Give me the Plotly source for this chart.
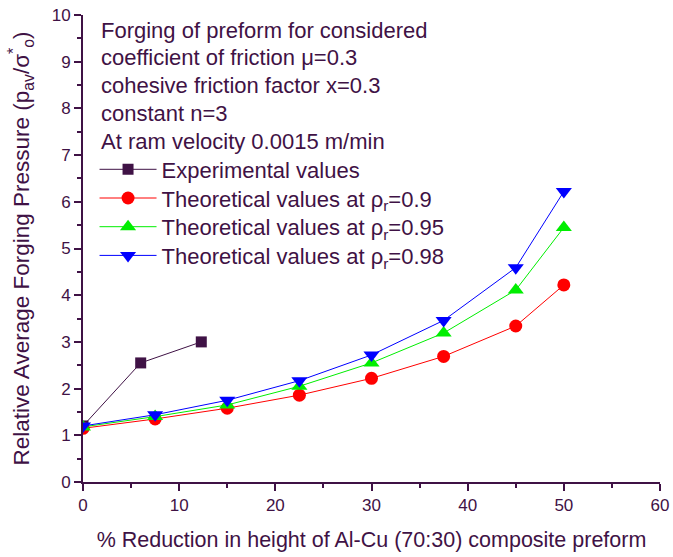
import plotly.graph_objects as go

# % reduction in height
x_exp = [0, 6, 12.3]
y_exp = [1.2, 2.55, 3.0]

x_theory = [0, 7.5, 15, 22.5, 30, 37.5, 45, 50]
y_rho_090 = [1.15, 1.35, 1.58, 1.86, 2.22, 2.69, 3.34, 4.22]
y_rho_095 = [1.18, 1.40, 1.65, 2.05, 2.55, 3.19, 4.11, 5.45]
y_rho_098 = [1.20, 1.44, 1.75, 2.17, 2.72, 3.46, 4.59, 6.22]

info_lines = [
    "Forging of preform for considered",
    "coefficient of friction \u03bc=0.3",
    "cohesive friction factor x=0.3",
    "constant n=3",
    "At ram velocity 0.0015 m/min",
]

INK = "#3f1245"
FONT = "Liberation Sans, Arial, sans-serif"
TXT = 22

plot_top, plot_bottom = 15, 482
span = plot_bottom - plot_top


def paper_y(row):
    return (plot_bottom - row) / span


series = [
    dict(x=x_exp, y=y_exp, name="Experimental values",
         color="#3f1245", symbol="square", size=11),
    dict(x=x_theory, y=y_rho_090, name="Theoretical values at \u03c1<sub>r</sub>=0.9",
         color="#ff0000", symbol="circle", size=13),
    dict(x=x_theory, y=y_rho_095, name="Theoretical values at \u03c1<sub>r</sub>=0.95",
         color="#00ee00", symbol="triangle-up", size=14),
    dict(x=x_theory, y=y_rho_098, name="Theoretical values at \u03c1<sub>r</sub>=0.98",
         color="#0000ff", symbol="triangle-down", size=14),
]

fig = go.Figure()
legend_layout = {}
for i, s in enumerate(series):
    key = "legend" if i == 0 else f"legend{i + 1}"
    fig.add_trace(go.Scatter(
        x=s["x"], y=s["y"], mode="lines+markers", name=s["name"],
        line=dict(color=s["color"], width=1),
        marker=dict(symbol=s["symbol"], size=s["size"], color=s["color"]),
        legend=key))
    # each entry gets its own legend box so the row spacing can be set exactly
    legend_layout[key] = dict(
        x=0.02, y=paper_y(169.5 + i * 28.7), xanchor="left", yanchor="middle",
        bgcolor="rgba(0,0,0,0)", font=dict(family=FONT, size=TXT, color=INK),
        itemwidth=57)

for i, line in enumerate(info_lines):
    fig.add_annotation(
        x=0.027, y=paper_y(30 + i * 27.8),
        xref="paper", yref="paper",
        xanchor="left", yanchor="middle", showarrow=False,
        text=line, font=dict(family=FONT, size=TXT, color=INK))

fig.update_layout(
    width=673, height=557,
    margin=dict(l=83, r=13, t=plot_top, b=557 - plot_bottom),
    paper_bgcolor="white", plot_bgcolor="white",
    font=dict(family=FONT, color=INK),
    showlegend=True,
    **legend_layout,
    xaxis=dict(
        range=[0, 60], tickmode="linear", tick0=0, dtick=10, automargin=False,
        showgrid=False, zeroline=False, showline=True, linecolor=INK, linewidth=2,
        ticks="outside", ticklen=7, tickwidth=1.5, tickcolor=INK,
        minor=dict(ticks="outside", dtick=5, ticklen=4, tickwidth=1.5, tickcolor=INK, showgrid=False),
        tickfont=dict(family=FONT, size=17, color=INK),
        title=dict(text="% Reduction in height of Al-Cu (70:30) composite preform",
                   font=dict(family=FONT, size=21.5, color=INK), standoff=18),
    ),
    yaxis=dict(
        range=[0, 10], tickmode="linear", tick0=0, dtick=1, automargin=False,
        showgrid=False, zeroline=False, showline=True, linecolor=INK, linewidth=2,
        ticks="outside", ticklen=7, tickwidth=1.5, tickcolor=INK,
        minor=dict(ticks="outside", dtick=0.5, ticklen=4, tickwidth=1.5, tickcolor=INK, showgrid=False),
        tickfont=dict(family=FONT, size=17, color=INK),
        title=dict(text="Relative Average Forging Pressure (p<sub>av</sub>/\u03c3<sup>*</sup><sub>o</sub>)",
                   font=dict(family=FONT, size=22.5, color=INK), standoff=16),
    ),
)

fig.write_html("out.html")
